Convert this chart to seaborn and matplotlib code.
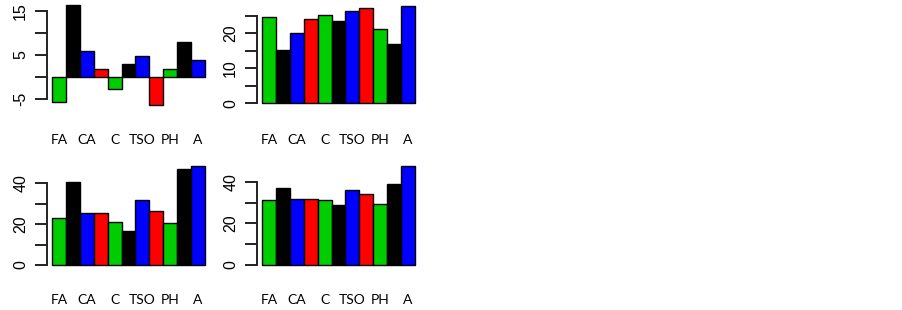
import matplotlib
matplotlib.use("Agg")
import matplotlib.pyplot as plt
import seaborn as sns
import pandas as pd

# ---- data ----
group_labels = ["FA", "CA", "C", "TSO", "PH", "A"]
label_positions = [0, 2, 4, 6, 8, 10]
bar_colors = ["#00CD00", "#000000", "#0000FF", "#FF0000"] * 3
bar_colors = bar_colors[:11]

panel1 = [-5.7, 16.4, 6.0, 1.8, -2.8, 3.0, 4.8, -6.4, 1.8, 8.0, 3.8]
panel2 = [24.7, 15.2, 20.2, 24.0, 25.2, 23.6, 26.3, 27.1, 21.1, 16.8, 27.9]
panel3 = [23.2, 40.8, 25.6, 25.6, 20.9, 16.8, 31.8, 26.4, 20.7, 47.0, 48.5]
panel4 = [31.2, 36.8, 31.8, 31.8, 31.2, 28.6, 36.2, 34.1, 29.1, 38.7, 47.5]

ticks1 = [-5, 0, 5, 10, 15]
ticks2 = [0, 5, 10, 15, 20, 25]
ticks34 = [0, 10, 20, 30, 40]

sns.set_style("white")
plt.rcParams["font.family"] = ["Liberation Sans", "DejaVu Sans"]
plt.rcParams["text.color"] = "black"
plt.rcParams["xtick.color"] = "black"
plt.rcParams["ytick.color"] = "black"

W, H = 903, 310
fig = plt.figure(figsize=(W / 100, H / 100), dpi=100)


def add_panel(x0, x1, top, bottom, values, ylim, yticks, ylabels):
    ax = fig.add_axes([x0 / W, 1 - bottom / H, (x1 - x0) / W, (bottom - top) / H])
    df = pd.DataFrame({"pos": list(range(len(values))), "val": values})
    sns.barplot(data=df, x="pos", y="val", hue="pos", palette=bar_colors,
                width=1.0, edgecolor="black", linewidth=1.0, legend=False,
                ax=ax, saturation=1)
    unit = (x1 - x0 - 10) / len(values)
    pad = 5 / unit
    ax.set_xlim(-0.5 - pad, len(values) - 0.5 + pad)
    ax.set_ylim(*ylim)
    for s in ["top", "right", "bottom"]:
        ax.spines[s].set_visible(False)
    ax.spines["left"].set_bounds(yticks[0], yticks[-1])
    ax.spines["left"].set_linewidth(1.4)
    ax.spines["left"].set_color("#222222")
    ax.set_yticks(yticks)
    ax.set_yticklabels(ylabels, rotation=90, va="center", fontsize=11.5,
                       color="black")
    ax.tick_params(axis="y", length=8.5, width=1.4, color="#222222", pad=5, left=True)
    ax.set_xticks(label_positions)
    ax.set_xticklabels(group_labels, fontsize=10, family=["Lato", "DejaVu Sans"],
                       color="black")
    ax.tick_params(axis="x", length=0, pad=17.5)
    ax.set_xlabel("")
    ax.set_ylabel("")
    ax.patch.set_alpha(0)
    return ax


add_panel(47, 210, 0, 110, panel1, (-7.5, 17.5), ticks1, ["-5", "", "5", "", "15"])
add_panel(257, 420, 0, 110, panel2, (-1.9, 29.5), ticks2, ["0", "", "10", "", "20", ""])
add_panel(47, 210, 160, 270, panel3, (-2.45, 51.4), ticks34, ["0", "", "20", "", "40"])
add_panel(257, 420, 160, 270, panel4, (-2.4, 50.4), ticks34, ["0", "", "20", "", "40"])

fig.savefig("out.png", dpi=100, facecolor="white")
